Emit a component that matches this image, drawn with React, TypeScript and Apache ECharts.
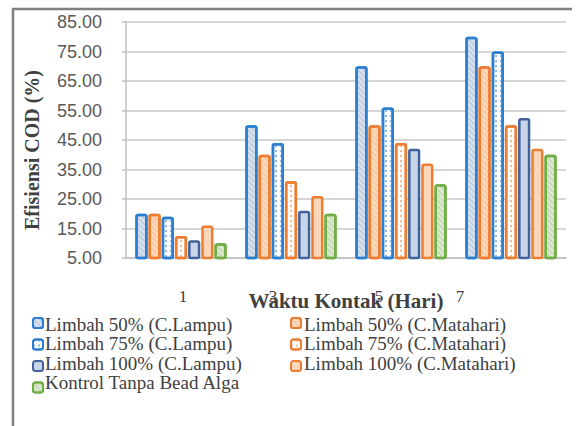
import React, { useEffect, useRef } from "react";
import * as echarts from "echarts";

const categories = ["1", "3", "5", "7"];
const limbah50Lampu = [20, 50, 70, 80];
const limbah50Matahari = [20, 40, 50, 70];
const limbah75Lampu = [19, 44, 56, 75];
const limbah75Matahari = [12.5, 31, 44, 50];
const limbah100Lampu = [11, 21, 42, 52.5];
const limbah100Matahari = [16, 26, 37, 42];
const kontrol = [10, 20, 30, 40];

const seriesNames = [
  "Limbah 50% (C.Lampu)",
  "Limbah 50% (C.Matahari)",
  "Limbah 75% (C.Lampu)",
  "Limbah 75% (C.Matahari)",
  "Limbah 100% (C.Lampu)",
  "Limbah 100% (C.Matahari)",
  "Kontrol Tanpa Bead Alga",
];
const legendLeftColumn = [0, 2, 4, 6];
const legendRightColumn = [1, 3, 5];

const SERIF = "Liberation Serif";
const SANS = "Liberation Sans";

const BLUE = "#2a7fd0";
const ORANGE = "#ed7d31";
const DARKBLUE = "#41629a";
const GREEN = "#70ad47";

const hatch = (color: string, bg: string) => ({
  symbol: "rect",
  symbolSize: 1,
  color,
  backgroundColor: bg,
  dashArrayX: [1, 0],
  dashArrayY: [1, 2.5],
  rotation: Math.PI / 4,
});
const dots = (color: string) => ({
  symbol: "circle",
  symbolSize: 1,
  color,
  backgroundColor: "#ffffff",
  dashArrayX: [[2, 3]],
  dashArrayY: [2, 3],
  rotation: 0,
});

export default function App() {
  const ref = useRef<HTMLDivElement>(null);
  useEffect(() => {
    if (!ref.current) return;
    const chart = echarts.init(ref.current, undefined, { renderer: "svg" });
    const styles = [
      { color: "#d6e0ee", borderColor: BLUE, decal: hatch("#b3c3da", "#e2e9f3") },
      { color: "#fbd7bb", borderColor: ORANGE, decal: hatch("#f3c29e", "#fcdfc9") },
      { color: "#ffffff", borderColor: BLUE, decal: dots("#7ea8da") },
      { color: "#ffffff", borderColor: ORANGE, decal: dots("#f0ad7e") },
      { color: "#c9d5e8", borderColor: DARKBLUE, decal: null },
      { color: "#fbd6b8", borderColor: ORANGE, decal: null },
      { color: "#dce8d0", borderColor: GREEN, decal: hatch("#b9d2a7", "#e3edd9") },
    ];
    const dataSets = [
      limbah50Lampu,
      limbah50Matahari,
      limbah75Lampu,
      limbah75Matahari,
      limbah100Lampu,
      limbah100Matahari,
      kontrol,
    ];
    const labelPad: Record<string, number[]> = {
      "1": [0, 0, 0, 4],
      "3": [0, 36, 0, 0],
      "5": [0, 44, 0, 0],
      "7": [0, 102, 0, 0],
    };
    const rich: any = {};
    categories.forEach((c, i) => {
      rich["c" + i] = {
        padding: labelPad[c],
        fontFamily: SERIF,
        fontSize: 17,
        color: "#404040",
      };
    });
    const LEG_TOP = 317;
    const LEG_PITCH = 19.5;
    const legendBase = {
      orient: "vertical",
      top: LEG_TOP,
      itemWidth: 10,
      itemHeight: 10,
      itemGap: LEG_PITCH - 10,
      padding: 0,
      formatter: () => "",
    };
    const legendTexts: any[] = [];
    const addCol = (idx: number[], x: number) =>
      idx.forEach((si, row) =>
        legendTexts.push({
          type: "text",
          x,
          y: LEG_TOP + 7 + row * LEG_PITCH,
          silent: true,
          style: {
            text: seriesNames[si],
            fontFamily: SERIF,
            fontSize: 19,
            fill: "#404040",
            align: "left",
            verticalAlign: "middle",
          },
        })
      );
    addCol(legendLeftColumn, 45);
    addCol(legendRightColumn, 304);
    chart.setOption({
      animation: false,
      backgroundColor: "#ffffff",
      textStyle: { fontFamily: SERIF },
      graphic: [
        {
          type: "polyline",
          shape: { points: [[13, 430], [13, 9], [572, 9]] },
          style: { stroke: "#808080", lineWidth: 2.5, fill: null },
          silent: true,
        },
        ...legendTexts,
      ],
      grid: { left: 126, right: 15, top: 22, bottom: 168, containLabel: false },
      legend: [
        { ...legendBase, data: legendLeftColumn.map((i) => seriesNames[i]), left: 32 },
        { ...legendBase, data: legendRightColumn.map((i) => seriesNames[i]), left: 290 },
      ],
      xAxis: {
        type: "category",
        data: categories,
        name: "Waktu Kontak (Hari)",
        nameLocation: "middle",
        nameGap: 30,
        nameMoveOverlap: false,
        nameTextStyle: {
          fontFamily: SERIF,
          fontWeight: "bold",
          fontSize: 21,
          color: "#404040",
          backgroundColor: "#ffffff",
          padding: [2, 2, 0, 2],
        },
        axisLine: { show: true, lineStyle: { color: "#bfbfbf", width: 1.5 } },
        axisTick: { show: false },
        axisLabel: {
          interval: 0,
          margin: 30,
          formatter: (v: string, i: number) => `{c${i}|${v}}`,
          rich,
        },
      },
      yAxis: {
        type: "value",
        min: 5,
        max: 85,
        interval: 10,
        name: "Efisiensi COD (%)",
        nameLocation: "middle",
        nameGap: 84,
        nameMoveOverlap: false,
        nameTextStyle: {
          fontFamily: SERIF,
          fontWeight: "bold",
          fontSize: 20,
          color: "#404040",
          padding: [0, 20, 0, 0],
        },
        axisLine: { show: true, lineStyle: { color: "#bfbfbf", width: 1.5 } },
        axisTick: { show: true, length: 4, lineStyle: { color: "#bfbfbf", width: 1.5 } },
        splitLine: { lineStyle: { color: "#c8c8c8", width: 1.5 } },
        axisLabel: {
          margin: 24,
          formatter: (v: number) => v.toFixed(2),
          fontFamily: SANS,
          fontSize: 18,
          color: "#595959",
        },
      },
      series: dataSets.map((d, i) => ({
        name: seriesNames[i],
        type: "bar",
        data: d,
        barGap: "8%",
        barCategoryGap: "17%",
        itemStyle: {
          color: styles[i].color,
          borderColor: styles[i].borderColor,
          borderWidth: 2.5,
          borderRadius: 1.5,
          ...(styles[i].decal ? { decal: styles[i].decal } : {}),
        },
      })),
    });
    return () => chart.dispose();
  }, []);
  return (
    <div
      ref={ref}
      style={{ position: "fixed", left: 0, top: 0, width: 581, height: 426 }}
    />
  );
}
